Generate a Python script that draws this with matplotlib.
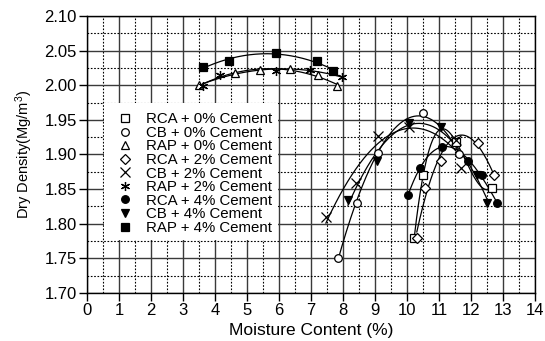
import numpy as np
import matplotlib
matplotlib.use("Agg")
import matplotlib.pyplot as plt
from matplotlib.patches import Rectangle
from matplotlib.ticker import MultipleLocator

plt.rcParams['font.family'] = ['Liberation Sans', 'DejaVu Sans']
plt.rcParams['mathtext.default'] = 'regular'

# ---- data ----
labels = ["RCA + 0% Cement", "CB + 0% Cement", "RAP + 0% Cement",
          "RCA + 2% Cement", "CB + 2% Cement", "RAP + 2% Cement",
          "RCA + 4% Cement", "CB + 4% Cement", "RAP + 4% Cement"]

rca0_x = [10.22, 10.50, 11.53, 12.64]
rca0_y = [1.780, 1.870, 1.918, 1.852]
cb0_x = [7.83, 8.43, 9.10, 10.50, 11.63]
cb0_y = [1.750, 1.830, 1.902, 1.960, 1.900]
rap0_x = [3.49, 4.62, 5.41, 6.33, 7.21, 7.81]
rap0_y = [2.000, 2.017, 2.022, 2.023, 2.015, 1.999]
rca2_x = [10.30, 10.55, 11.05, 12.22, 12.70]
rca2_y = [1.780, 1.851, 1.890, 1.916, 1.870]
cb2_x = [7.46, 8.39, 9.10, 10.05, 11.53, 11.69]
cb2_y = [1.809, 1.859, 1.926, 1.940, 1.921, 1.880]
rap2_x = [3.61, 4.15, 5.91, 6.96, 7.96]
rap2_y = [1.999, 2.015, 2.021, 2.022, 2.012]
rca4_x = [10.03, 10.39, 11.10, 11.89, 12.34, 12.80]
rca4_y = [1.841, 1.881, 1.911, 1.891, 1.870, 1.830]
cb4_x = [8.15, 9.07, 10.05, 11.07, 12.17, 12.49]
cb4_y = [1.834, 1.890, 1.945, 1.940, 1.870, 1.830]
rap4_x = [3.61, 4.42, 5.89, 7.18, 7.67]
rap4_y = [2.026, 2.035, 2.046, 2.035, 2.021]

series = [
    (rca0_x, rca0_y, 's', 'white', 3),
    (cb0_x, cb0_y, 'o', 'white', 2),
    (rap0_x, rap0_y, '^', 'white', 2),
    (rca2_x, rca2_y, 'D', 'white', 3),
    (cb2_x, cb2_y, 'x', 'black', 2),
    (rap2_x, rap2_y, (6, 2, 0), 'black', 2),
    (rca4_x, rca4_y, 'o', 'black', 3),
    (cb4_x, cb4_y, 'v', 'black', 2),
    (rap4_x, rap4_y, 's', 'black', 2),
]

fig = plt.figure(figsize=(5.45, 3.41), dpi=100)
ax = fig.add_axes([0.160, 0.141, 0.822, 0.812])
ax.set_xlim(0, 14)
ax.set_ylim(1.70, 2.10)
ax.xaxis.set_major_locator(MultipleLocator(1))
ax.xaxis.set_minor_locator(MultipleLocator(0.5))
ax.yaxis.set_major_locator(MultipleLocator(0.05))
ax.yaxis.set_minor_locator(MultipleLocator(0.025))
ax.set_axisbelow(True)
ax.grid(which='major', color='#3a3a3a', lw=1.0, ls='-')
ax.grid(which='minor', color='black', lw=0.8, ls=(0, (1.5, 1.5)))
ax.tick_params(which='major', direction='out', length=6, width=1, labelsize=12, pad=1.5)
ax.tick_params(which='minor', length=0)
ax.yaxis.set_major_formatter(matplotlib.ticker.FormatStrFormatter('%.2f'))
for s in ax.spines.values():
    s.set_linewidth(1.0)

# white legend area covering the grid
ax.add_patch(Rectangle((0.52, 1.776), 5.44, 0.198, facecolor='white',
                       edgecolor='none', zorder=1))

handles = []
for (xs, ys, m, fc, deg), lab in zip(series, labels):
    xs = np.array(xs); ys = np.array(ys)
    c = np.polyfit(xs, ys, deg)
    xx = np.linspace(xs.min(), xs.max(), 200)
    ax.plot(xx, np.polyval(c, xx), color='black', lw=0.9, zorder=2)
    ms = 6.5 if m in ('x', (6, 2, 0)) else 5.5
    h, = ax.plot(xs, ys, ls='none', marker=m, ms=ms, mfc=fc, mec='black',
                 mew=0.9, zorder=3, label=lab)
    handles.append(h)

leg = ax.legend(handles=handles, loc='upper left', bbox_to_anchor=(0.07, 0.652),
                frameon=False, fontsize=10.8, handlelength=0.9, handletextpad=0.9,
                labelspacing=-0.03, borderpad=0.0, borderaxespad=0.0)

ax.set_xlabel('Moisture Content (%)', fontsize=12.5, labelpad=3)
ax.set_ylabel('Dry Density(Mg/m$^3$)', fontsize=10.5, labelpad=7)

fig.savefig('out.png', dpi=100)
